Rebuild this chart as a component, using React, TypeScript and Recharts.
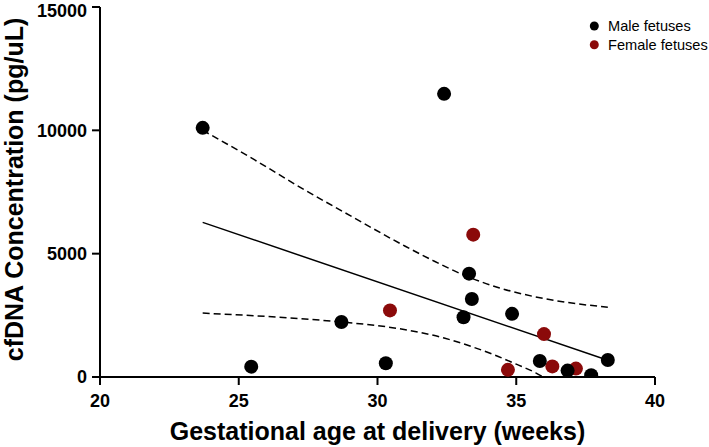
import { ScatterChart, Scatter, XAxis, YAxis, Legend } from 'recharts'

const maleAge = [23.7, 25.45, 28.7, 30.3, 32.4, 33.1, 33.3, 33.4, 34.85, 35.85, 36.85, 37.7, 38.3]
const maleConc = [10100, 420, 2230, 560, 11480, 2420, 4190, 3160, 2560, 650, 260, 70, 690]

const femaleAge = [30.45, 33.45, 34.7, 36.0, 36.3, 37.15]
const femaleConc = [2700, 5770, 290, 1740, 430, 340]

// regression line + 95% band
const fitAge = [23.7, 38.3]
const fitConc = [6270, 680]

const upperAge = [23.7, 25.5, 27.2, 29.0, 31.0, 32.0, 33.2, 34.4, 35.6, 36.8, 38.3]
const upperConc = [10000, 8850, 7700, 6550, 5300, 4720, 4090, 3610, 3270, 3030, 2830]

const lowerAge = [23.7, 26.2, 28.7, 30.6, 32.4, 33.4, 34.2, 35.0, 35.7, 35.97]
const lowerConc = [2590, 2440, 2230, 1990, 1580, 1230, 900, 520, 170, 0]

const xTicks = [20, 25, 30, 35, 40]
const yTicks = [0, 5000, 10000, 15000]

const legendItems = [
  { name: 'Male fetuses', color: '#000000' },
  { name: 'Female fetuses', color: '#8b0a0a' },
]

const FONT = '"Liberation Sans", Arial, sans-serif'

const zip = (xs: number[], ys: number[]) => xs.map((x, i) => ({ x, y: ys[i] }))

const maleData = zip(maleAge, maleConc)
const femaleData = zip(femaleAge, femaleConc)
const fitData = zip(fitAge, fitConc)
const upperData = zip(upperAge, upperConc)
const lowerData = zip(lowerAge, lowerConc)

const dot = (color: string) => (props: any) =>
  <circle cx={props.cx} cy={props.cy} r={7} fill={color} />

const noDot = () => <g />

const LegendBox = () => (
  <svg width={124} height={45} style={{ display: 'block' }}>
    {legendItems.map((item, i) => (
      <g key={item.name}>
        <circle cx={9.3} cy={14 + i * 18.7} r={4.5} fill={item.color} />
        <text x={23} y={18.9 + i * 18.7} fontSize={14.6} fontFamily={FONT} fill="#000">
          {item.name}
        </text>
      </g>
    ))}
  </svg>
)

export default function App() {
  const tickStyle = { fill: '#000', fontSize: 18, fontWeight: 'bold', fontFamily: FONT }
  const axisLine = { stroke: '#000', strokeWidth: 2 }
  const dashed = { stroke: '#000', strokeWidth: 1.5, strokeDasharray: '7 4' }

  return (
    <div style={{ position: 'absolute', left: 0, top: 0, background: '#fff' }}>
      <ScatterChart
        width={709}
        height={447}
        margin={{ top: 7, right: 54, left: 0, bottom: 0 }}
        style={{ fontFamily: FONT }}
      >
        <XAxis
          type="number"
          dataKey="x"
          domain={[20, 40]}
          ticks={xTicks}
          height={70}
          tickSize={8}
          tickMargin={9}
          axisLine={axisLine}
          tickLine={axisLine}
          tick={tickStyle}
          allowDataOverflow
          label={{
            content: (p: any) => {
              const vb = p.viewBox
              return (
                <text
                  x={vb.x + vb.width / 2}
                  y={vb.y + 63}
                  textAnchor="middle"
                  fontSize={25}
                  fontWeight="bold"
                  fontFamily={FONT}
                  fill="#000"
                >
                  Gestational age at delivery (weeks)
                </text>
              )
            },
          }}
        />
        <YAxis
          type="number"
          dataKey="y"
          domain={[0, 15000]}
          ticks={yTicks}
          width={100}
          tickSize={8}
          tickMargin={5}
          axisLine={axisLine}
          tickLine={axisLine}
          tick={tickStyle}
          allowDataOverflow
          label={{
            content: (p: any) => {
              const vb = p.viewBox
              const cy = vb.y + vb.height / 2 - 2.5
              return (
                <text
                  x={14}
                  y={cy}
                  transform={`rotate(-90 14 ${cy})`}
                  textAnchor="middle"
                  dominantBaseline="central"
                  fontSize={25}
                  fontWeight="bold"
                  fontFamily={FONT}
                  fill="#000"
                >
                  cfDNA Concentration (pg/uL)
                </text>
              )
            },
          }}
        />
        <Legend
          layout="horizontal"
          verticalAlign="middle"
          align="center"
          wrapperStyle={{ top: 12, left: 585, width: 124, height: 45 }}
          content={() => <LegendBox />}
        />

        <Scatter
          name="upper"
          data={upperData}
          line={dashed}
          lineJointType="monotoneX"
          shape={noDot}
          legendType="none"
          isAnimationActive={false}
        />
        <Scatter
          name="lower"
          data={lowerData}
          line={dashed}
          lineJointType="monotoneX"
          shape={noDot}
          legendType="none"
          isAnimationActive={false}
        />
        <Scatter
          name="fit"
          data={fitData}
          line={{ stroke: '#000', strokeWidth: 1.5 }}
          shape={noDot}
          legendType="none"
          isAnimationActive={false}
        />
        <Scatter
          name="Female fetuses"
          data={femaleData}
          fill={legendItems[1].color}
          shape={dot(legendItems[1].color)}
          isAnimationActive={false}
        />
        <Scatter
          name="Male fetuses"
          data={maleData}
          fill={legendItems[0].color}
          shape={dot(legendItems[0].color)}
          isAnimationActive={false}
        />
      </ScatterChart>
    </div>
  )
}
